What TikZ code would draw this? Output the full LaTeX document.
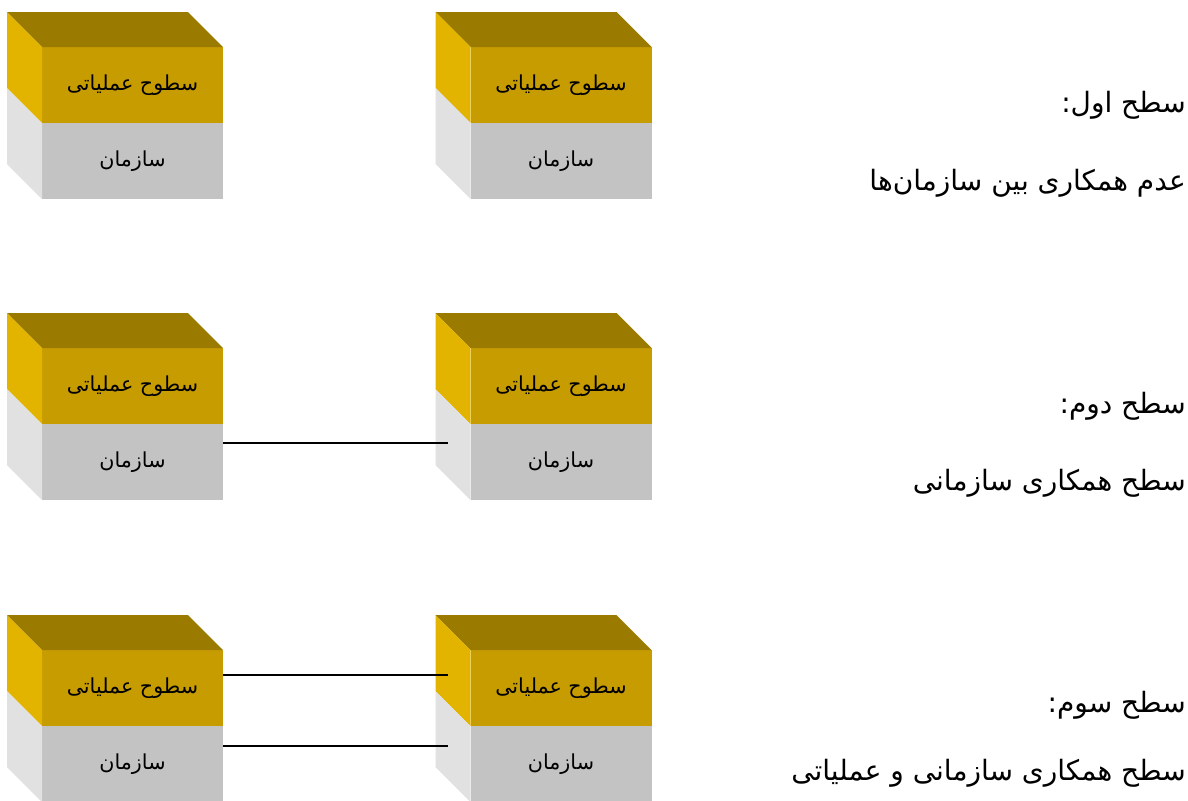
\documentclass[tikz,border=0pt]{standalone}
\usepackage{fontspec}
\newfontfamily\arabicfont[Script=Arabic]{DejaVu Sans}
\TeXXeTstate=1
\usetikzlibrary{calc,positioning}

\definecolor{topgold}{HTML}{9A7B00}
\definecolor{sidegold}{HTML}{E2B400}
\definecolor{frontgold}{HTML}{C69C00}
\definecolor{frontgray}{HTML}{C3C3C3}
\definecolor{sidegray}{HTML}{E1E1E1}

\tikzset{
  face/.style={inner sep=0pt, outer sep=0pt, minimum width=135.75pt, minimum height=57pt, font=\arabicfont\fontsize{15.5}{18}\selectfont},
  opface/.style={face, fill=frontgold},
  orgface/.style={face, fill=frontgray},
  level/.style={anchor=east, inner sep=0pt, font=\arabicfont\fontsize{21}{25}\selectfont},
  link/.style={line width=1.3pt, black}
}

\begin{document}
\begin{tikzpicture}[x=0.75pt, y=-0.75pt]
    \useasboundingbox[fill=white] (0,0) rectangle (1188,800);

    % front faces
    \node[opface] (op11) at (132.5,85) {\beginR سطوح عملیاتی\endR};
    \node[orgface] (org11) at (132.5,161) {\beginR سازمان\endR};
    \node[opface] (op12) at (561,85) {\beginR سطوح عملیاتی\endR};
    \node[orgface] (org12) at (561,161) {\beginR سازمان\endR};

    \node[opface] (op21) at (132.5,386) {\beginR سطوح عملیاتی\endR};
    \node[orgface] (org21) at (132.5,462) {\beginR سازمان\endR};
    \node[opface] (op22) at (561,386) {\beginR سطوح عملیاتی\endR};
    \node[orgface] (org22) at (561,462) {\beginR سازمان\endR};

    \node[opface] (op31) at (132.5,688) {\beginR سطوح عملیاتی\endR};
    \node[orgface] (org31) at (132.5,764) {\beginR سازمان\endR};
    \node[opface] (op32) at (561,688) {\beginR سطوح عملیاتی\endR};
    \node[orgface] (org32) at (561,764) {\beginR سازمان\endR};

    % side and top faces
    \foreach \b in {11,12,21,22,31,32}{
      \fill[topgold] (op\b.north west) -- ++(-35,-35) -- ($(op\b.north east)+(-35,-35)$) -- (op\b.north east) -- cycle;
      \fill[sidegold] (op\b.north west) -- ++(-35,-35) -- ($(op\b.south west)+(-35,-35)$) -- (op\b.south west) -- cycle;
      \fill[sidegray] (org\b.north west) -- ++(-35,-35) -- ($(org\b.south west)+(-35,-35)$) -- (org\b.south west) -- cycle;
    }

    % connectors
    \coordinate (end2) at (448,443);
    \coordinate (end3a) at (448,675);
    \coordinate (end3b) at (448,746);
    \draw[link] (org21.east |- end2) -- (end2);
    \draw[link] (op31.east |- end3a) -- (end3a);
    \draw[link] (org31.east |- end3b) -- (end3b);

    % level texts
    \node[level] (lvl1) at (1186,105) {\beginR سطح اول:\endR};
    \node[level] (desc1) at (1186,183) {\beginR عدم همکاری بین سازمان‌ها\endR};
    \node[level] (lvl2) at (1186,406) {\beginR سطح دوم:\endR};
    \node[level] (desc2) at (1186,483) {\beginR سطح همکاری سازمانی\endR};
    \node[level] (lvl3) at (1186,705) {\beginR سطح سوم:\endR};
    \node[level] (desc3) at (1186,773) {\beginR سطح همکاری سازمانی و عملیاتی\endR};
\end{tikzpicture}
\end{document}
